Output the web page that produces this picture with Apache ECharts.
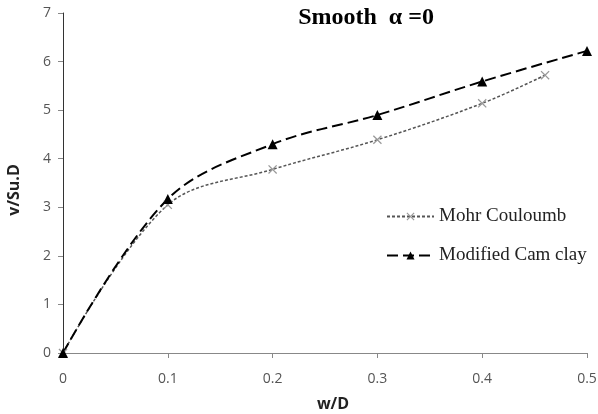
<!DOCTYPE html>
<html><head><meta charset="utf-8">
<script src="https://cdn.jsdelivr.net/npm/echarts@6/dist/echarts.min.js"></script>
<style>html,body{margin:0;padding:0;background:#fff}#c{width:598px;height:414px}</style>
</head><body><div id="c"></div>
<script>
const xMohr = [0, 0.1, 0.2, 0.3, 0.4, 0.46];
const yMohr = [0, 3.05, 3.78, 4.39, 5.14, 5.72];
const xCam = [0, 0.1, 0.2, 0.3, 0.4, 0.5];
const yCam = [0, 3.17, 4.30, 4.90, 5.59, 6.22];
const seriesNames = ['Mohr Couloumb', 'Modified Cam clay'];
const titleText = 'Smooth  α =0';
const xName = 'w/D', yName = 'v/Su.D';

const crossPath = 'path://M0,1L1,0L5,4L9,0L10,1L6,5L10,9L9,10L5,6L1,10L0,9L4,5Z';
const chart = echarts.init(document.getElementById('c'), null, {renderer:'canvas'});
chart.setOption({
  animation:false,
  backgroundColor:'#fff',
  title:{text:titleText, left:361, top:1, textAlign:'center',
    textStyle:{fontFamily:'Liberation Serif', fontWeight:'bold', fontSize:24, color:'#000'}},
  grid:{left:63, right:11, top:13, bottom:61, containLabel:false, outerBoundsMode:'none'},
  legend:{orient:'vertical', left:381, top:202, itemGap:20, itemWidth:47, itemHeight:10,
    textStyle:{fontFamily:'Liberation Serif', fontSize:19, color:'#222'},
    data:seriesNames},
  xAxis:{type:'value', min:0, max:0.5, interval:0.1,
    name:xName, nameLocation:'middle', nameGap:43,
    nameTextStyle:{fontFamily:'Open Sans', fontWeight:'bold', fontSize:16, color:'#222', padding:[0,0,0,16]},
    axisLine:{lineStyle:{color:'#888', width:1}},
    axisTick:{show:true, length:5, lineStyle:{color:'#888'}},
    axisLabel:{fontFamily:'Open Sans', fontSize:14, color:'#555', margin:19},
    splitLine:{show:false}},
  yAxis:{type:'value', min:0, max:7, interval:1,
    name:yName, nameLocation:'middle', nameGap:41, nameRotate:90,
    nameTextStyle:{fontFamily:'Open Sans', fontWeight:'bold', fontSize:16, color:'#222', padding:[0,0,0,-14]},
    axisLine:{show:true, lineStyle:{color:'#333', width:1}},
    axisTick:{show:true, length:5, lineStyle:{color:'#888'}},
    axisLabel:{fontFamily:'Open Sans', fontSize:14, color:'#555', margin:12},
    splitLine:{show:false}},
  series:[
    {name:seriesNames[0], type:'line', smooth:0.35,
     data:xMohr.map((x,i)=>[x,yMohr[i]]),
     symbol:crossPath, symbolSize:9,
     itemStyle:{color:'#999'},
     lineStyle:{color:'#555', width:1.5, type:[3,2]}},
    {name:seriesNames[1], type:'line', smooth:0.35,
     data:xCam.map((x,i)=>[x,yCam[i]]),
     symbol:'triangle', symbolSize:10,
     itemStyle:{color:'#000'},
     lineStyle:{color:'#000', width:2, type:[11,5]}}
  ]
});
</script></body></html>
